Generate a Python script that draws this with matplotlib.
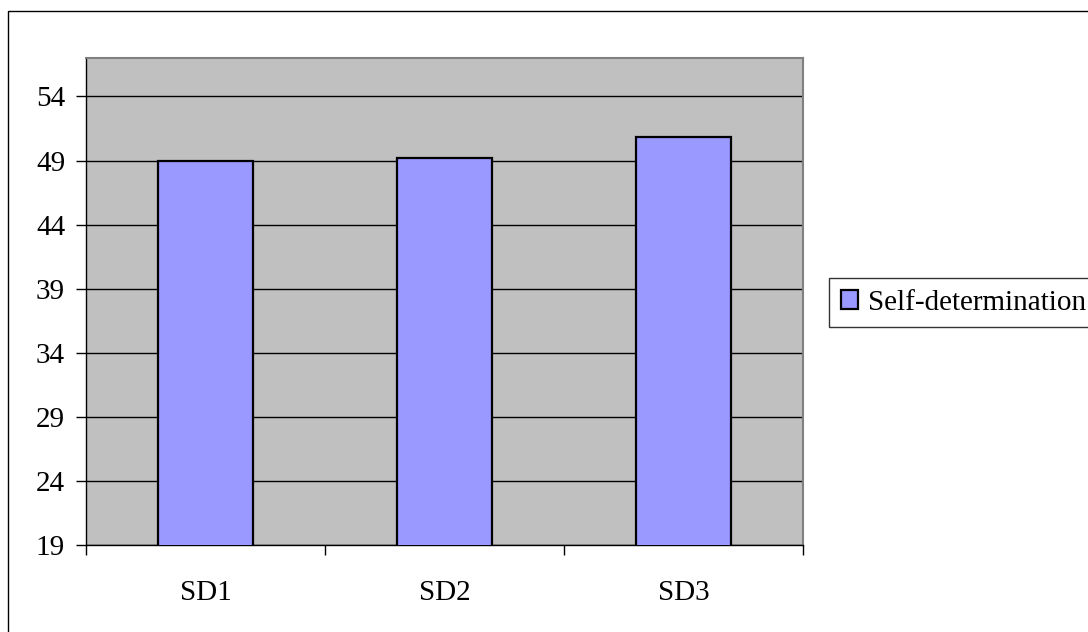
import matplotlib
matplotlib.use("Agg")
import matplotlib.pyplot as plt
from matplotlib.patches import Rectangle
import numpy as np

# values
categories = ["SD1", "SD2", "SD3"]
values = [49.0, 49.2, 50.8]
series_name = "Self-determination"
y_ticks = [19, 24, 29, 34, 39, 44, 49, 54]

W, H = 1088, 632
plt.rcParams["font.family"] = ["Liberation Serif", "DejaVu Serif"]
FS = 21

fig = plt.figure(figsize=(W / 100, H / 100), dpi=100)
# plot area in pixels: left 86, right 803, top 58, bottom 545
ax = fig.add_axes([86 / W, 1 - 545 / H, (803 - 86) / W, (545 - 58) / H])
ax.set_facecolor("#C0C0C0")

x = np.arange(len(categories))
ax.bar(x, values, width=0.4, color="#9999FF", edgecolor="black",
       linewidth=1.6, label=series_name, zorder=3)

ax.set_xlim(-0.5, len(categories) - 0.5)
ax.set_ylim(19, 57)
ax.set_yticks(y_ticks)
ax.set_yticklabels([str(t) for t in y_ticks], fontsize=FS)
ax.yaxis.grid(True, color="black", linewidth=1.0, zorder=1)
ax.set_axisbelow(True)

# category labels centred, ticks at category boundaries
ax.set_xticks(x)
ax.set_xticklabels(categories, fontsize=FS)
ax.tick_params(axis="x", which="major", length=0, pad=25)
ax.set_xticks(np.arange(len(categories) + 1) - 0.5, minor=True)
ax.tick_params(axis="x", which="minor", length=7, width=1.0, direction="out")
ax.tick_params(axis="y", length=7, width=1.0, direction="out", pad=8)

for side in ("top", "right"):
    ax.spines[side].set_color("#808080")
    ax.spines[side].set_linewidth(1.5)
for side in ("left", "bottom"):
    ax.spines[side].set_color("black")
    ax.spines[side].set_linewidth(1.0)

# outer chart border (runs off the right and bottom edges)
fig.patches.append(Rectangle((8 / W, -0.2), 2.0, 1.2 - 11 / H,
                             transform=fig.transFigure, fill=False,
                             edgecolor="black", linewidth=1.0))

leg = fig.legend(loc="upper left", bbox_to_anchor=(829 / W, 1 - 278 / H),
                 fontsize=FS, frameon=True, fancybox=False, borderaxespad=0,
                 borderpad=0.4, handlelength=0.6, handleheight=0.6,
                 handletextpad=0.35)
leg.get_frame().set_edgecolor("black")
leg.get_frame().set_linewidth(1.0)

fig.savefig("out.png", dpi=100)
